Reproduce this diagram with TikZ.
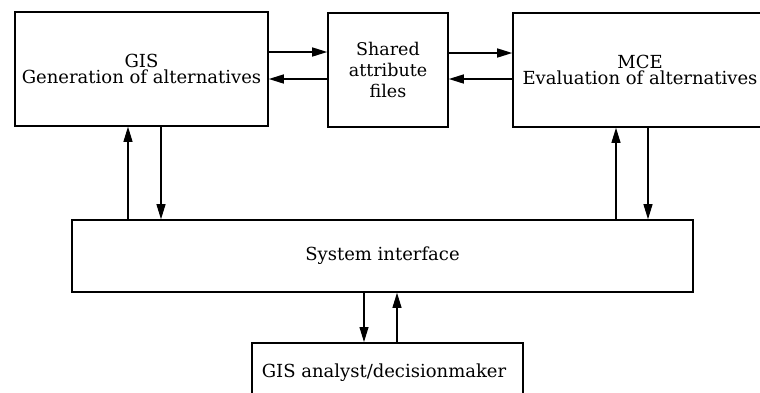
\documentclass[tikz,border=0pt]{standalone}
\usepackage{fontspec}
\setmainfont{DejaVu Serif}
\usetikzlibrary{arrows.meta}
\begin{document}
\begin{tikzpicture}[x=1pt,y=-1pt,
  box/.style={draw, line width=1.6pt, inner sep=0pt, align=center},
  txt/.style={font=\fontsize{18}{16.5}\selectfont},
  arr/.style={line width=1.5pt, -{Triangle[length=15pt,width=9pt]}},
  varr/.style={line width=1.1pt, -{Triangle[length=15pt,width=9pt]}}]
\useasboundingbox (0,0) rectangle (760,392);
\clip (0,0) rectangle (760,392);
\node[box, txt, minimum width=253pt, minimum height=114pt] (gis) at (141.5,69) {GIS\\Generation of alternatives};
\node[box, minimum width=120pt, minimum height=114pt, font=\fontsize{17.5}{21}\selectfont] (shared) at (388,70) {Shared\\attribute\\files};
\node[box, txt, minimum width=254pt, minimum height=114pt] (mce) at (640,70) {MCE\\Evaluation of alternatives};
\node[box, txt, minimum width=621pt, minimum height=72pt] (si) at (382.5,256) {System interface};
\node[box, minimum width=271pt, minimum height=80pt, anchor=north] (ana) at (387.5,342) {};
\node[txt, anchor=base] (anatext) at (384,377) {GIS analyst/decisionmaker};
% horizontal arrows
\draw[arr] (gis.east |- 0,52) -- (shared.west |- 0,52);
\draw[arr] (shared.west |- 0,79) -- (gis.east |- 0,79);
\draw[arr] (shared.east |- 0,53) -- (mce.west |- 0,53);
\draw[arr] (mce.west |- 0,79) -- (shared.east |- 0,79);
% vertical arrows
\draw[varr] (si.north -| 128,0) -- (gis.south -| 128,0);
\draw[varr] (gis.south -| 161,0) -- (si.north -| 161,0);
\draw[varr] (si.north -| 616,0) -- (mce.south -| 616,0);
\draw[varr] (mce.south -| 648,0) -- (si.north -| 648,0);
\draw[varr] (si.south -| 364,0) -- (ana.north -| 364,0);
\draw[varr] (ana.north -| 397,0) -- (si.south -| 397,0);
\end{tikzpicture}
\end{document}
